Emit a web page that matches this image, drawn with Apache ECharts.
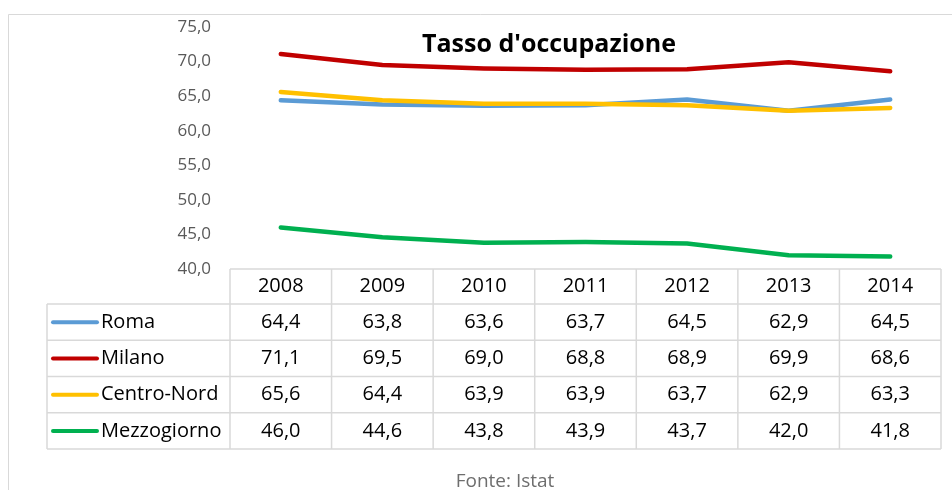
<!DOCTYPE html>
<html>
	<head>
		<meta charset="utf-8">
		<title>Tasso d'occupazione</title>
		<script src="https://cdn.jsdelivr.net/npm/echarts@6/dist/echarts.min.js"></script>
		<style>
			html, body { margin: 0; padding: 0; background: #fff; }
		</style>
	</head>
	<body>
		<div id="main" style="width: 952px;height:490px;"></div>
		<script>
			var years = ['2008', '2009', '2010', '2011', '2012', '2013', '2014'];
			var roma = [64.4, 63.8, 63.6, 63.7, 64.5, 62.9, 64.5];
			var milano = [71.1, 69.5, 69.0, 68.8, 68.9, 69.9, 68.6];
			var centroNord = [65.6, 64.4, 63.9, 63.9, 63.7, 62.9, 63.3];
			var mezzogiorno = [46.0, 44.6, 43.8, 43.9, 43.7, 42.0, 41.8];

			var seriesNames = ['Roma', 'Milano', 'Centro-Nord', 'Mezzogiorno'];
			var seriesData = [roma, milano, centroNord, mezzogiorno];
			var colors = ['#5b9bd5', '#c00000', '#ffc000', '#00b050'];

			var font = '"Open Sans", "Noto Sans", sans-serif';
			function fmt(v) {
				return v.toFixed(1).replace('.', ',');
			}

			// posizioni della tabella dati (sotto l'area del grafico)
			var plotLeft = 230, plotRight = 941;
			var colW = (plotRight - plotLeft) / years.length;
			var tableTop = 269, headerBottom = 304, rowH = 36.25, tableLeft = 47;
			var tableBottom = headerBottom + rowH * seriesNames.length;
			var borderColor = '#d9d9d9';

			var graphics = [];
			// cornice esterna
			graphics.push({
				type: 'rect',
				shape: { x: 8.5, y: 14.5, width: 1000, height: 600 },
				style: { fill: 'none', stroke: borderColor, lineWidth: 1 }
			});
			function hLine(x1, x2, y) {
				graphics.push({
					type: 'line',
					shape: { x1: x1, y1: y, x2: x2, y2: y },
					style: { stroke: borderColor, lineWidth: 1.5 }
				});
			}
			function vLine(x, y1, y2) {
				graphics.push({
					type: 'line',
					shape: { x1: x, y1: y1, x2: x, y2: y2 },
					style: { stroke: borderColor, lineWidth: 1.5 }
				});
			}
			hLine(plotLeft, plotRight, tableTop);
			for (var r = 0; r <= seriesNames.length; r++) {
				hLine(tableLeft, plotRight, headerBottom + r * rowH);
			}
			vLine(tableLeft, headerBottom, tableBottom);
			for (var c = 0; c <= years.length; c++) {
				vLine(plotLeft + c * colW, tableTop, tableBottom);
			}
			// intestazione anni
			years.forEach(function (y, i) {
				graphics.push({
					type: 'text',
					x: plotLeft + (i + 0.5) * colW,
					y: (tableTop + headerBottom) / 2,
					style: {
						text: y, fill: '#000', font: '20px ' + font,
						textAlign: 'center', textVerticalAlign: 'middle'
					}
				});
			});
			// righe con legenda e valori
			seriesNames.forEach(function (name, r) {
				var cy = headerBottom + (r + 0.5) * rowH;
				graphics.push({
					type: 'line',
					shape: { x1: 53, y1: cy, x2: 97, y2: cy },
					style: { stroke: colors[r], lineWidth: 4, lineCap: 'round' }
				});
				graphics.push({
					type: 'text',
					x: 101,
					y: cy,
					style: {
						text: name, fill: '#000', font: '20px ' + font,
						textAlign: 'left', textVerticalAlign: 'middle'
					}
				});
				seriesData[r].forEach(function (v, i) {
					graphics.push({
						type: 'text',
						x: plotLeft + (i + 0.5) * colW,
						y: cy,
						style: {
							text: fmt(v), fill: '#000', font: '20px ' + font,
							textAlign: 'center', textVerticalAlign: 'middle'
						}
					});
				});
			});
			graphics.push({
				type: 'text',
				x: 505,
				y: 482,
				style: {
					text: 'Fonte: Istat', fill: '#6e6e6e', font: '19px ' + font,
					textAlign: 'center', textVerticalAlign: 'middle'
				}
			});

			var myChart = echarts.init(document.getElementById('main'));
			var option = {
				backgroundColor: '#fff',
				animation: false,
				title: {
					text: "Tasso d'occupazione",
					left: 544,
					top: 40,
					textAlign: 'center',
					textVerticalAlign: 'middle',
					textStyle: {
						color: '#000',
						fontSize: 25,
						fontWeight: 'bold',
						fontFamily: font
					}
				},
				grid: {
					left: plotLeft,
					right: 952 - plotRight,
					top: 27,
					bottom: 490 - tableTop
				},
				xAxis: {
					type: 'category',
					data: years,
					boundaryGap: true,
					axisLine: { show: false },
					axisTick: { show: false },
					axisLabel: { show: false },
					splitLine: { show: false }
				},
				yAxis: {
					type: 'value',
					min: 40,
					max: 75,
					interval: 5,
					axisLine: { show: false },
					axisTick: { show: false },
					splitLine: { show: false },
					axisLabel: {
						color: '#595959',
						fontSize: 17,
						fontFamily: font,
						margin: 19,
						formatter: function (v) { return fmt(v); }
					}
				},
				series: seriesNames.map(function (name, i) {
					return {
						name: name,
						type: 'line',
						data: seriesData[i],
						symbol: 'none',
						lineStyle: { color: colors[i], width: 4.5, cap: 'round', join: 'round' },
						z: 2 + (i === 2 ? 1 : 0)
					};
				}),
				graphic: graphics
			};
			myChart.setOption(option);
		</script>
	</body>
</html>
